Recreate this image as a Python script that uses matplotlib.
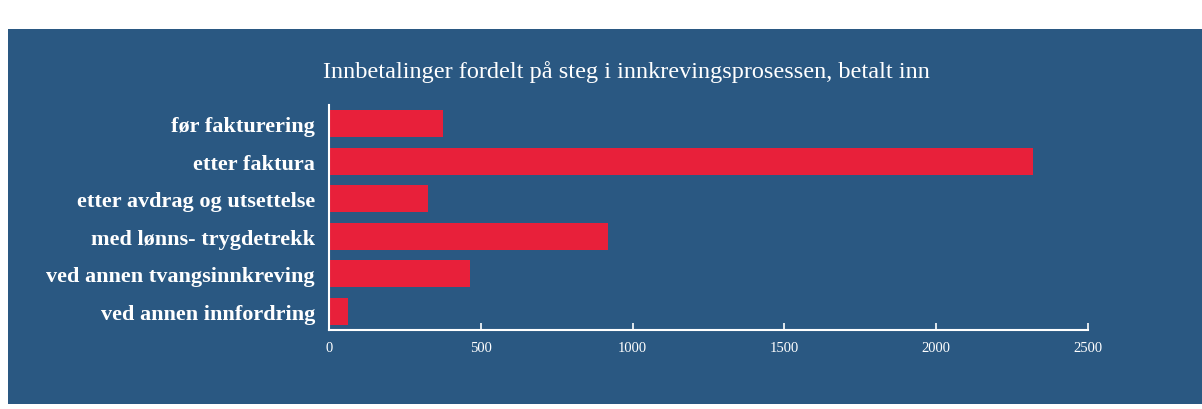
import matplotlib

matplotlib.use("Agg")
import matplotlib.pyplot as plt
from matplotlib.patches import Rectangle

TITLE = "Innbetalinger fordelt på steg i innkrevingsprosessen, betalt inn"
categories = [
    "før fakturering",
    "etter faktura",
    "etter avdrag og utsettelse",
    "med lønns- trygdetrekk",
    "ved annen tvangsinnkreving",
    "ved annen innfordring",
]
values = [375, 2320, 325, 918, 466, 62]
x_ticks = [0, 500, 1000, 1500, 2000, 2500]

PANEL = "#2a5882"
BAR = "#e8203a"
W, H = 1202, 410

fig = plt.figure(figsize=(W / 100, H / 100), dpi=100, facecolor="white")
# dark panel behind the chart (slide background)
fig.patches.append(
    Rectangle((8 / W, 1 - 405 / H), (W - 8) / W, (405 - 30) / H,
              transform=fig.transFigure, facecolor=PANEL, edgecolor="none", zorder=-5)
)

ax = fig.add_axes([329 / W, 1 - 331 / H, (1088 - 329) / W, (331 - 106) / H])
ax.set_facecolor("none")
ax.barh(range(len(categories)), values, height=0.72, color=BAR)
ax.set_xlim(0, 2500)
ax.set_ylim(len(categories) - 0.5, -0.5)

ax.set_yticks(range(len(categories)))
ax.set_yticklabels(categories, family="Liberation Serif", fontweight="bold",
                   fontsize=16, color="white")
ax.tick_params(axis="y", length=0, pad=10)
ax.set_xticks(x_ticks)
ax.set_xticklabels([str(t) for t in x_ticks], family="Liberation Serif",
                   fontsize=10.5, color="white")
ax.tick_params(axis="x", direction="in", length=5, color="white", pad=8, width=1.2)

for side in ("top", "right"):
    ax.spines[side].set_visible(False)
for side in ("left", "bottom"):
    ax.spines[side].set_color("white")
    ax.spines[side].set_linewidth(1.5)

fig.text(626 / W, 1 - 72 / H, TITLE, ha="center", va="center",
         family="Liberation Serif", fontsize=17.5, color="white")

fig.savefig("out.png", dpi=100, facecolor=fig.get_facecolor())
